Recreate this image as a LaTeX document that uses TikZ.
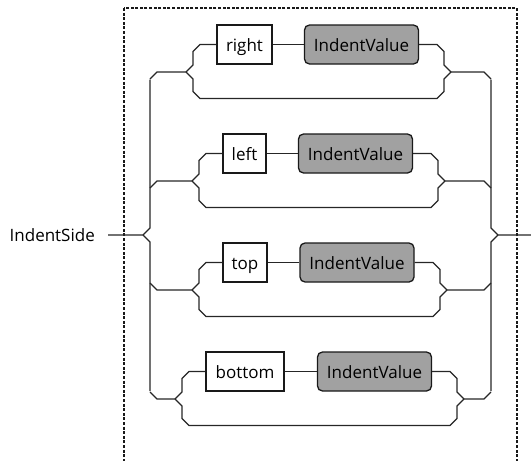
\documentclass[tikz,border=0pt]{standalone}
\usepackage{fontspec}
\setmainfont{Open Sans}
\begin{document}
\begin{tikzpicture}[x=1pt,y=-1pt,
  line/.style={draw=black!85, line width=1.2pt},
  lbl/.style={font=\fontsize{17}{20}\selectfont, text height=15pt, text depth=1.4pt, inner sep=0pt},
  kw/.style={lbl, draw=black!90, line width=1.3pt, fill=white, minimum height=39pt},
  ref/.style={kw, fill=black!37, rounded corners=5pt},
  frame/.style={draw=black!90, line width=1.2pt, dash pattern=on 3pt off 1.6pt}]
\useasboundingbox (0,0) rectangle (531,461);
\clip (0,0) rectangle (531,461);
\draw[frame] (124,8) rectangle (517,480);
% main label and junctions
\node[lbl, anchor=east] (name) at (95,235) {IndentSide};
\coordinate (s) at (108,235);
\coordinate (ml) at (143,235);
\coordinate (mr) at (498,235);
\coordinate (e) at (531,235);
\draw[line] (s) -- (ml) -- (150,228) -- (150,79.5);
\draw[line] (ml) -- (150,242) -- (150,391);
\draw[line] (e) -- (mr) -- (491,228) -- (491,79.5);
\draw[line] (mr) -- (491,242) -- (491,391);
\foreach \r/\cy/\ac/\aw/\txt/\vc/\jl/\jr/\dd in {
  1/44.5/244.5/55/right/361.5/186/451/7,
  2/153.5/244.5/43/left/355.5/192/445/7,
  3/262.5/245/44/top/357/192/447/-7,
  4/371.5/245/78/bottom/374.5/175/464/-7}{
  \pgfmathsetmacro\jy{\cy+27.5}
  \pgfmathsetmacro\by{\cy+54}
  \node[kw, minimum width=\aw pt] (a\r) at (\ac,\cy) {\txt};
  \node[ref, minimum width=114pt] (v\r) at (\vc,\cy) {IndentValue};
  \coordinate (jl\r) at (\jl,\jy);
  \coordinate (jr\r) at (\jr,\jy);
  \draw[line] (a\r) -- (v\r);
  % left bracket
  \draw[line] (150,\jy+\dd) -- (157,\jy) -- (jl\r);
  \draw[line] (jl\r) -- ++(7,-7) -- ++(0,-13.5) -- ++(7,-7) -- (a\r.west);
  \draw[line] (jl\r) -- ++(7,7) -- ++(0,12.5) -- ++(7,7) -- (\jr-14,\by) -- ++(7,-7) -- ++(0,-12.5) -- (jr\r);
  % right bracket
  \draw[line] (v\r.east) -- (\jr-14,\cy) -- ++(7,7) -- ++(0,13.5) -- (jr\r);
  \draw[line] (jr\r) -- (484,\jy) -- (491,\jy+\dd);
}
\end{tikzpicture}
\end{document}
